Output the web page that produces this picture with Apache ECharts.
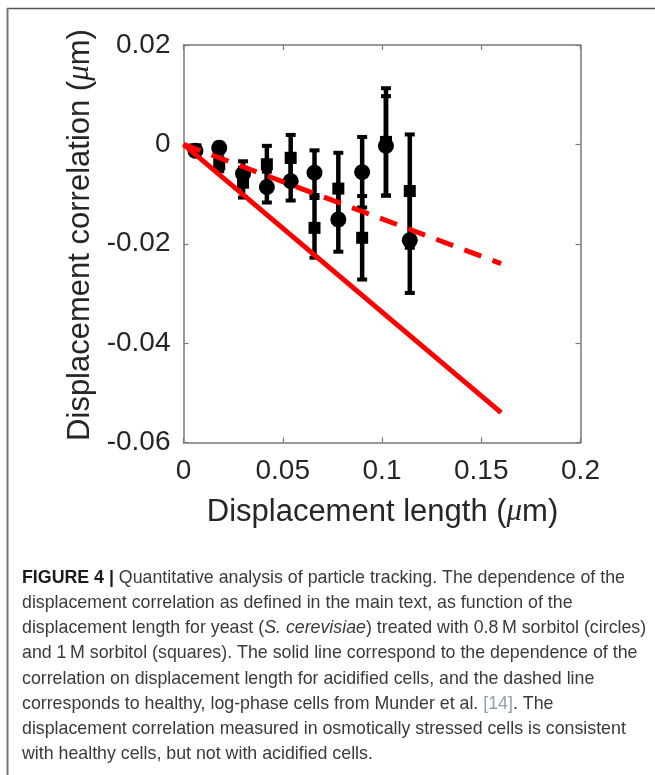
<!DOCTYPE html>
<html>
<head>
<meta charset="utf-8">
<script src="https://cdn.jsdelivr.net/npm/echarts@6/dist/echarts.min.js"></script>
<style>
  html, body { margin: 0; padding: 0; background: #fff; }
  #chart { width: 655px; height: 775px; }
</style>
</head>
<body>
<div id="chart"></div>
<script>
// ---- data ----
const xPositions = [0.006, 0.018, 0.030, 0.042, 0.054, 0.066, 0.078, 0.090, 0.102, 0.114];
// 0.8 M sorbitol (circles)
const circleY   = [-0.0013, -0.0007, -0.0059, -0.0086, -0.0074, -0.0057, -0.0151, -0.0056, -0.0003, -0.0193];
const circleErr = [0.0006, 0.0010, 0.0025, 0.0031, 0.0039, 0.0045, 0.0065, 0.0071, 0.0100, 0.0106];
// 1 M sorbitol (squares)
const squareY   = [-0.0010, -0.0040, -0.0077, -0.0040, -0.0027, -0.0168, -0.0089, -0.0188, 0.0005, -0.0094];
const squareErr = [0.0006, 0.0014, 0.0030, 0.0037, 0.0046, 0.0060, 0.0072, 0.0084, 0.0108, 0.0114];
// acidified cells (solid line) and healthy log-phase cells (dashed line)
const acidX = [0, 0.16];
const acidY = [0, -0.054];
const healthyX = [0, 0.16];
const healthyY = [0, -0.024];
// tick labels
const xTickLabels = ['0', '0.05', '0.1', '0.15', '0.2'];
const yTickLabels = ['-0.06', '-0.04', '-0.02', '0', '0.02'];

const X_MIN = 0, X_MAX = 0.2, X_INT = 0.05;
const Y_MIN = -0.06, Y_MAX = 0.02, Y_INT = 0.02;

const circlePts = xPositions.map((x, i) => [x, circleY[i]]);
const squarePts = xPositions.map((x, i) => [x, squareY[i]]);
const circleBars = xPositions.map((x, i) => [x, circleY[i], circleErr[i]]);
const squareBars = xPositions.map((x, i) => [x, squareY[i], squareErr[i]]);
const acidLine = acidX.map((x, i) => [x, acidY[i]]);
const healthyLine = healthyX.map((x, i) => [x, healthyY[i]]);

const AX = '#7a7a7a';
const LBL = '#262626';
const FONT = '"Liberation Sans", Arial, Helvetica, sans-serif';

function errRender(params, api) {
  const x = api.value(0), y = api.value(1), e = api.value(2);
  const t = api.coord([x, y + e]);
  const b = api.coord([x, y - e]);
  const cw = 5;
  return {
    type: 'group',
    children: [
      { type: 'line', shape: { x1: t[0], y1: t[1], x2: b[0], y2: b[1] }, style: { stroke: '#000', lineWidth: 4.5 } },
      { type: 'line', shape: { x1: t[0] - cw, y1: t[1], x2: t[0] + cw, y2: t[1] }, style: { stroke: '#000', lineWidth: 4 } },
      { type: 'line', shape: { x1: b[0] - cw, y1: b[1], x2: b[0] + cw, y2: b[1] }, style: { stroke: '#000', lineWidth: 4 } }
    ]
  };
}

function axisCommon(min, max, interval) {
  return {
    type: 'value', min: min, max: max, interval: interval,
    splitLine: { show: false },
    axisLine: { show: true, onZero: false, lineStyle: { color: AX, width: 1.5 } },
    axisTick: { show: true, inside: true, length: 5, lineStyle: { color: AX, width: 1.2 } }
  };
}

const xMain = Object.assign(axisCommon(X_MIN, X_MAX, X_INT), {
  position: 'bottom',
  axisLabel: {
    show: true, margin: 15, color: LBL, fontSize: 28, fontFamily: FONT,
    formatter: v => xTickLabels[Math.round((v - X_MIN) / X_INT)]
  }
});
const xTop = Object.assign(axisCommon(X_MIN, X_MAX, X_INT), {
  position: 'top', axisLabel: { show: false }
});
const yMain = Object.assign(axisCommon(Y_MIN, Y_MAX, Y_INT), {
  position: 'left',
  axisLabel: {
    show: true, margin: 13, color: LBL, fontSize: 28, fontFamily: FONT,
    formatter: v => yTickLabels[Math.round((v - Y_MIN) / Y_INT)]
  }
});
const yRight = Object.assign(axisCommon(Y_MIN, Y_MAX, Y_INT), {
  position: 'right', axisLabel: { show: false }
});

const capColor = '#3a3a3a';
const capFont = 17.8;
const capLines = [
  '{b|FIGURE 4 |} Quantitative analysis of particle tracking. The dependence of the',
  'displacement correlation as defined in the main text, as function of the',
  'displacement length for yeast ({i|S. cerevisiae}) treated with 0.8\u2009M sorbitol (circles)',
  'and 1\u2009M sorbitol (squares). The solid line correspond to the dependence of the',
  'correlation on displacement length for acidified cells, and the dashed line',
  'corresponds to healthy, log-phase cells from Munder et al. {r|[14]}. The',
  'displacement correlation measured in osmotically stressed cells is consistent',
  'with healthy cells, but not with acidified cells.'
];
const capGraphics = capLines.map((t, k) => ({
  type: 'text', x: 22, y: 578 + 25.2 * k,
  style: {
    text: t, fill: capColor, font: capFont + 'px ' + FONT, verticalAlign: 'middle',
    rich: {
      b: { fontWeight: 'bold', fontSize: capFont, fontFamily: FONT, fill: '#1a1a1a' },
      i: { fontStyle: 'italic', fontSize: capFont, fontFamily: FONT, fill: capColor },
      r: { fontSize: capFont, fontFamily: FONT, fill: '#8fa0ae' }
    }
  }
}));

const TITLE_FS = 31;
const chart = echarts.init(document.getElementById('chart'), null, { renderer: 'canvas' });
chart.setOption({
  animation: false,
  backgroundColor: '#fff',
  grid: { left: 183.5, top: 45, width: 397, height: 397.5, containLabel: false },
  xAxis: [xMain, xTop],
  yAxis: [yMain, yRight],
  graphic: [
    { type: 'line', shape: { x1: 7, y1: 8.5, x2: 655, y2: 8.5 }, style: { stroke: '#505050', lineWidth: 1.5 } },
    { type: 'line', shape: { x1: 7.5, y1: 8, x2: 7.5, y2: 775 }, style: { stroke: '#777', lineWidth: 2 } },
    {
      type: 'text', x: 382.5, y: 512,
      style: {
        text: 'Displacement length ({m|\u03bc}m)', fill: LBL, font: TITLE_FS + 'px ' + FONT,
        align: 'center', verticalAlign: 'middle',
        rich: { m: { fontFamily: '"Liberation Serif", serif', fontStyle: 'italic', fontSize: TITLE_FS, fill: LBL } }
      }
    },
    {
      type: 'text', x: 80, y: 235, rotation: Math.PI / 2,
      style: {
        text: 'Displacement correlation ({m|\u03bc}m)', fill: LBL, font: TITLE_FS + 'px ' + FONT,
        align: 'center', verticalAlign: 'middle',
        rich: { m: { fontFamily: '"Liberation Serif", serif', fontStyle: 'italic', fontSize: TITLE_FS, fill: LBL } }
      }
    }
  ].concat(capGraphics),
  series: [
    { type: 'custom', name: '1 M bars', renderItem: errRender, data: squareBars, encode: { x: 0, y: 1 }, z: 2 },
    { type: 'custom', name: '0.8 M bars', renderItem: errRender, data: circleBars, encode: { x: 0, y: 1 }, z: 2 },
    { type: 'scatter', name: '1 M sorbitol', symbol: 'rect', symbolSize: 12, data: squarePts, itemStyle: { color: '#000', opacity: 1 }, z: 3 },
    { type: 'scatter', name: '0.8 M sorbitol', symbol: 'circle', symbolSize: 16, data: circlePts, itemStyle: { color: '#000', opacity: 1 }, z: 3 },
    { type: 'line', name: 'acidified', data: acidLine, symbol: 'none', lineStyle: { color: '#ff0000', width: 5 }, z: 4 },
    { type: 'line', name: 'healthy', data: healthyLine, symbol: 'none', lineStyle: { color: '#ff0000', width: 5, type: [18, 12], cap: 'butt' }, z: 4 }
  ]
});
</script>
</body>
</html>
